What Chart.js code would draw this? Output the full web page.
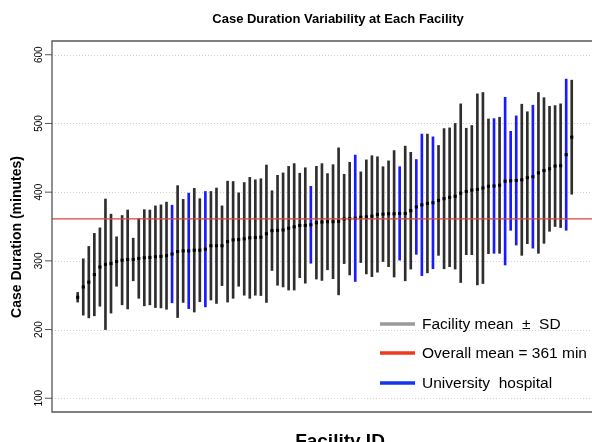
<!DOCTYPE html>
<html>
<head>
<meta charset="utf-8">
<script src="https://cdn.jsdelivr.net/npm/chart.js@4"></script>
<style>
  html, body { margin: 0; padding: 0; background: #fff; overflow: hidden; }
  #wrap { width: 592px; height: 442px; }
</style>
</head>
<body>
<div id="wrap"><canvas id="caseDurationChart" width="592" height="442"></canvas></div>
<script>
// facility means (minutes), sorted as in the figure
const means = [
  247, 262, 269, 280, 291, 295, 296, 299, 301, 302,
  302, 303.5, 304.5, 305, 306, 306.5, 307.5, 310, 313.5, 314.5,
  314.5, 315.5, 315.5, 317, 322, 322, 322, 328, 330.5, 331,
  332, 333.5, 334, 334.5, 339.5, 344, 344.5, 345, 347.5, 349.5,
  351.5, 351.5, 352.5, 355.5, 356.5, 357, 357, 357.5, 361, 361.5,
  362, 363.5, 364, 365, 367.5, 368, 368.5, 368.5, 369, 369,
  373, 378.5, 381.5, 383.5, 384.5, 388, 390.5, 392.5, 394, 398.5,
  401, 403, 404, 406, 408.5, 409, 410, 416, 416.5, 417,
  418, 421, 422.5, 428, 431.5, 434, 438, 438.5, 454.5, 480
]
// standard deviations
const sds = [
  7, 41, 52, 60, 57, 95, 72, 36, 65, 72,
  31, 58, 70, 69, 74, 75, 78, 71, 96, 75,
  84, 90, 75, 84, 79, 84, 58, 88, 85, 68,
  82, 88, 84, 85, 100, 58, 80, 83, 90, 92,
  76, 84, 56, 82, 85, 70, 83, 107, 65, 82,
  92, 66, 83, 88, 84, 69, 77, 92, 68, 98,
  85, 69, 103, 101, 96, 80, 102, 101, 106, 130,
  92, 94, 139, 139, 98, 98, 99, 122, 72, 94,
  110, 96, 104, 117, 106, 91, 88, 90, 110, 83
]
// positions (1-based) of the university hospitals
const university = [18, 21, 24, 43, 51, 59, 62, 63, 65, 76, 78, 79, 80, 83, 89]
const overallMean = 361
const yTicks = [100, 200, 300, 400, 500, 600]
const legendItems = [
  { text: "Facility mean  ±  SD", color: "#9a9a9a" },
  { text: "Overall mean = " + overallMean + " min", color: "#ee3a1e" },
  { text: "University  hospital", color: "#1535ee" }
]

const facilityIds = means.map((m, i) => i + 1)
const xMin = -3.63, xMax = 93.65

const FONT = '"Liberation Sans", Arial, sans-serif'

const decorations = {
  id: 'decorations',
  beforeDatasetsDraw(chart) {
    const ctx = chart.ctx
    const a = chart.chartArea
    const y = chart.scales.y
    ctx.save()
    // dotted grid
    ctx.strokeStyle = '#cfcfcf'
    ctx.lineWidth = 1
    ctx.setLineDash([1, 2])
    yTicks.forEach(t => {
      const py = Math.round(y.getPixelForValue(t)) + 0.5
      ctx.beginPath()
      ctx.moveTo(a.left, py)
      ctx.lineTo(a.right, py)
      ctx.stroke()
    })
    ctx.restore()
  },
  afterDraw(chart) {
    const ctx = chart.ctx
    const a = chart.chartArea
    const y = chart.scales.y
    ctx.save()
    // box (left, top, bottom)
    ctx.strokeStyle = '#555'
    ctx.lineWidth = 1.3
    ctx.beginPath()
    ctx.moveTo(a.right, a.top)
    ctx.lineTo(a.left, a.top)
    ctx.lineTo(a.left, a.bottom)
    ctx.lineTo(a.right, a.bottom)
    ctx.stroke()

    // ticks + rotated labels
    ctx.lineWidth = 1
    ctx.fillStyle = '#000'
    ctx.font = '10px ' + FONT
    ctx.textAlign = 'center'
    ctx.textBaseline = 'alphabetic'
    yTicks.forEach(t => {
      const py = y.getPixelForValue(t)
      ctx.beginPath()
      ctx.moveTo(a.left - 7, py)
      ctx.lineTo(a.left, py)
      ctx.stroke()
      ctx.save()
      ctx.translate(42, py)
      ctx.rotate(-Math.PI / 2)
      ctx.fillText(String(t), 0, 0)
      ctx.restore()
    })

    // titles
    ctx.font = 'bold 13px ' + FONT
    ctx.fillText('Case Duration Variability at Each Facility', 338, 23)

    ctx.save()
    ctx.translate(21, 237)
    ctx.rotate(-Math.PI / 2)
    ctx.font = 'bold 14px ' + FONT
    ctx.fillText('Case Duration (minutes)', 0, 0)
    ctx.restore()

    ctx.font = 'bold 19px ' + FONT
    ctx.fillText('Facility ID', 340, 447)

    // legend
    ctx.textAlign = 'left'
    ctx.textBaseline = 'middle'
    ctx.font = '15.5px ' + FONT
    const rows = [324, 353, 383]
    legendItems.forEach((it, i) => {
      ctx.strokeStyle = it.color
      ctx.lineWidth = 3.5
      ctx.beginPath()
      ctx.moveTo(380, rows[i])
      ctx.lineTo(415, rows[i])
      ctx.stroke()
      ctx.fillStyle = '#000'
      ctx.fillText(it.text, 422, rows[i] + 1)
    })
    ctx.restore()
  }
}

const ctx = document.getElementById('caseDurationChart').getContext('2d')
const chart = new Chart(ctx, {
  data: {
    datasets: [
      {
        type: 'line',
        order: 0,
        data: [{ x: xMin, y: overallMean }, { x: xMax, y: overallMean }],
        borderColor: '#d94545',
        borderWidth: 1.2,
        pointRadius: 0
      },
      {
        type: 'scatter',
        order: 1,
        data: facilityIds.map((id, i) => ({ x: id, y: means[i] })),
        pointStyle: 'rect',
        pointRadius: 2.2,
        borderWidth: 0,
        backgroundColor: '#000'
      },
      {
        type: 'bar',
        order: 2,
        data: facilityIds.map((id, i) => ({ x: id, y: [means[i] - sds[i], means[i] + sds[i]] })),
        backgroundColor: facilityIds.map(id => university.includes(id) ? '#1a1aff' : '#2e2e2e'),
        barThickness: 2,
        grouped: false
      }
    ]
  },
  options: {
    responsive: false,
    animation: false,
    devicePixelRatio: 1,
    layout: { autoPadding: false, padding: { left: 52, top: 41, right: 0, bottom: 30 } },
    plugins: { legend: { display: false }, title: { display: false }, tooltip: { enabled: false } },
    scales: {
      x: { type: 'linear', min: xMin, max: xMax, offset: false, grid: { offset: false }, display: false },
      y: { type: 'linear', min: 80, max: 620, display: false }
    }
  },
  plugins: [decorations]
})
</script>
</body>
</html>
